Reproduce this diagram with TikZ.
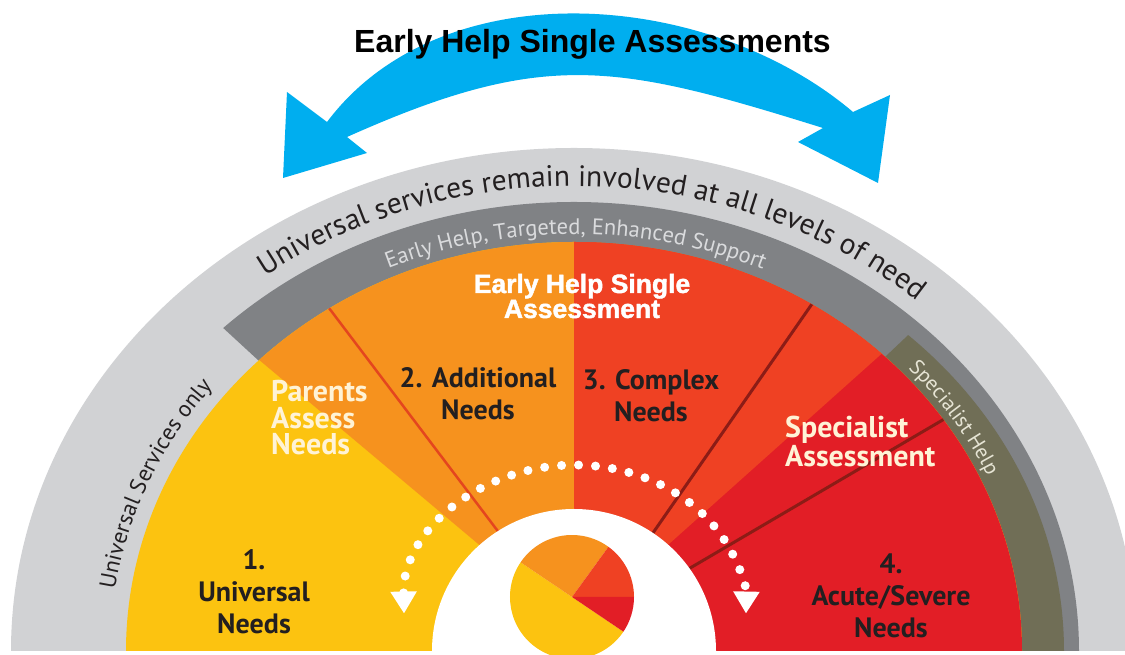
\documentclass[tikz,border=0pt]{standalone}
\usepackage{fontspec}
\setmainfont{PT Sans}
\newfontfamily\arialfont{Liberation Sans}[BoldFeatures={FakeBold=1.6}]
\newfontfamily\titlefont{Liberation Sans}
\usetikzlibrary{arrows.meta,decorations.text}
\definecolor{bandlight}{RGB}{209,210,212}
\definecolor{banddark}{RGB}{128,130,133}
\definecolor{bandolive}{RGB}{112,110,86}
\definecolor{needyellow}{RGB}{252,195,16}
\definecolor{needorange}{RGB}{246,146,30}
\definecolor{needredorange}{RGB}{239,65,35}
\definecolor{needred}{RGB}{226,30,38}
\definecolor{lineorange}{RGB}{228,70,30}
\definecolor{linedark}{RGB}{140,28,22}
\definecolor{arrowblue}{RGB}{0,174,239}
\definecolor{labeldark}{RGB}{35,31,32}
\definecolor{labelcream}{RGB}{255,243,214}
\definecolor{bandtext}{RGB}{218,219,221}
\definecolor{olivetext}{RGB}{230,228,212}

\begin{document}
\begin{tikzpicture}[line cap=round,line join=round,x=1pt,y=1pt,
	darklabel/.style={text=labeldark,font=\bfseries\fontsize{28}{32}\selectfont,align=center,anchor=base,inner sep=0},
	creamlabel/.style={text=labelcream,align=left,anchor=base west,inner sep=0}]
	\useasboundingbox (0,0) rectangle (1125,655);
	\coordinate (ctr) at (574,4);
	\fill [bandlight] ([shift={(180:563 and 503)}]ctr) arc[start angle=180,end angle=0,x radius=563,y radius=503] -- cycle;
	\fill [banddark] (ctr) -- ([shift={(134:505 and 449)}]ctr) arc[start angle=134,end angle=0,x radius=505,y radius=449] -- cycle;
	\fill [bandolive] (ctr) -- ([shift={(47:490 and 432)}]ctr) arc[start angle=47,end angle=0,x radius=490,y radius=432] -- cycle;
	\begin{scope}
		\clip ([shift={(180:448 and 409)}]ctr) arc[start angle=180,end angle=0,x radius=448,y radius=409] -- cycle;
		\fill [needyellow] (0,0) rectangle (1125,655);
		\fill [needorange] (51,470) -- (574,30.5) -- (574,665) -- (51,665) -- cycle;
		\fill [needred] (574,0) rectangle (1125,665);
		\fill [needredorange] (574,665) -- (1125,665) -- (1125,519) -- (574,26) -- cycle;
		\draw [lineorange,line width=2.5] (282.5,408.4) -- (546.5,59.6);
		\draw [linedark,line width=3] (855,413) -- (605,53);
		\draw [linedark,line width=3] (987,261) -- (639,57);
	\end{scope}
	\fill [white] (ctr) circle[radius=142];
	\coordinate (pie) at (572,58);
	\fill [needyellow] (pie) -- ++(146:62) arc[start angle=146,end angle=326,radius=62] -- cycle;
	\fill [needorange] (pie) -- ++(54:62) arc[start angle=54,end angle=146,radius=62] -- cycle;
	\fill [needredorange] (pie) -- ++(0:62) arc[start angle=0,end angle=54,radius=62] -- cycle;
	\fill [needred] (pie) -- ++(-34:62) arc[start angle=-34,end angle=0,radius=62] -- cycle;
	\coordinate (dotc) at (575,44);
	\draw [white,line width=9,dash pattern=on 0pt off 17pt,{Triangle[width=25pt,length=22pt]}-{Triangle[width=25pt,length=22pt]}] ([shift={(181:171 and 146)}]dotc) arc[start angle=181,end angle=-1,x radius=171,y radius=146];
	\fill [arrowblue] (327,533) .. controls (442,686) and (708,666) .. (853,543) -- (890,560) -- (878,472) -- (798,513) -- (823,527) .. controls (616,591.5) and (545,606.5) .. (347,518) -- (367,502) -- (283,477) -- (287,563) -- cycle;
	\node (title) [font=\titlefont\bfseries\fontsize{32}{32}\selectfont,anchor=base] at (592.5,602) {Early Help Single Assessments};
	\path [decorate,decoration={text along path,text align=center,text color=labeldark,text={|\fontsize{29.5}{29.5}\selectfont|Universal services remain involved at all levels of need}}] ([shift={(137.5:521 and 465)}]ctr) arc[start angle=137.5,end angle=37.5,x radius=521,y radius=465];
	\path [decorate,decoration={text along path,text align=center,text color=bandtext,text={|\fontsize{22.5}{22.5}\selectfont|Early Help, Targeted, Enhanced Support}}] ([shift={(124.8:467 and 417)}]ctr) arc[start angle=124.8,end angle=54.8,x radius=467,y radius=417];
	\path [decorate,decoration={text along path,text align=center,text color=labeldark,text={|\fontsize{23}{23}\selectfont|Universal Services only}}] ([shift={(178.5:464 and 421)}]ctr) arc[start angle=178.5,end angle=134.5,x radius=464,y radius=421];
	\path [decorate,decoration={text along path,text align=center,text color=olivetext,text={|\fontsize{21}{21}\selectfont|Specialist Help}}] ([shift={(49.75:456 and 415)}]ctr) arc[start angle=49.75,end angle=17.75,x radius=456,y radius=415];
	\node (ehsa) [text=white,font=\arialfont\bfseries\fontsize{26.5}{25}\selectfont,align=center,anchor=base] at (582,337) {Early Help Single\\Assessment};
	\node (parents) [creamlabel,font=\bfseries\fontsize{30}{26.5}\selectfont] at (271,200) {Parents\\Assess\\Needs};
	\node (additional) [darklabel] at (478,235) {2. Additional\\Needs};
	\node (complex) [darklabel] at (651,233) {3. Complex\\Needs};
	\node (specialist) [creamlabel,font=\bfseries\fontsize{30}{29}\selectfont] at (785,188) {Specialist\\Assessment};
	\node (universal) [darklabel] at (254,21) {1.\\Universal\\Needs};
	\node (acute) [darklabel] at (891,17) {4.\\Acute/Severe\\Needs};
\end{tikzpicture}
\end{document}
